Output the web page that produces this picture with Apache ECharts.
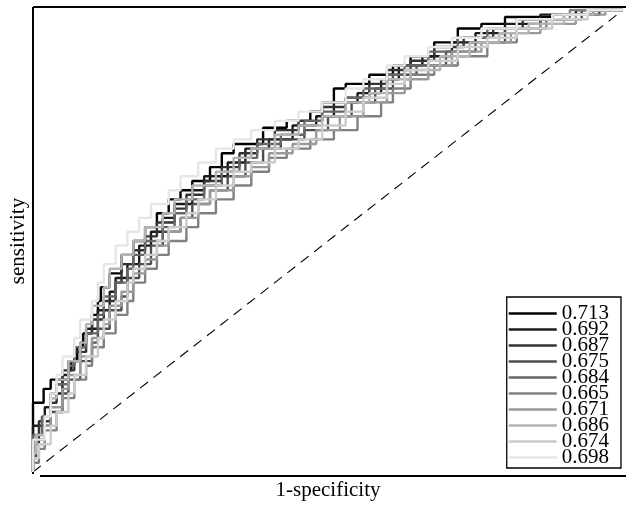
<!DOCTYPE html>
<html>
<head>
<meta charset="utf-8">
<script src="https://cdn.jsdelivr.net/npm/echarts@6/dist/echarts.min.js"></script>
<style>html,body{margin:0;padding:0;background:#fff;}#c{width:626px;height:506px;}</style>
</head>
<body>
<div id="c"></div>
<script>
// AUC labels (legend) and gray levels
const aucLabels = ['0.713','0.692','0.687','0.675','0.684','0.665','0.671','0.686','0.674','0.698'];
const grays = ['#000000','#1a1a1a','#333333','#4d4d4d','#666666','#808080','#999999','#b3b3b3','#cccccc','#e6e6e6'];

// ROC curves: [1-specificity, sensitivity]
const roc713 = [[0,0],[0,0.07],[0.018,0.15],[0.03,0.18],[0.035,0.2],[0.06,0.2],[0.065,0.22],[0.075,0.24],[0.085,0.27],[0.1,0.3],[0.11,0.34],[0.115,0.37],[0.13,0.4],[0.15,0.43],[0.17,0.47],[0.19,0.5],[0.21,0.53],[0.23,0.56],[0.25,0.59],[0.27,0.61],[0.3,0.63],[0.32,0.66],[0.34,0.69],[0.39,0.71],[0.43,0.745],[0.47,0.76],[0.49,0.78],[0.51,0.8],[0.53,0.83],[0.57,0.84],[0.61,0.86],[0.64,0.88],[0.68,0.9],[0.72,0.93],[0.76,0.96],[0.8,0.97],[0.88,0.985],[0.95,0.99],[1,1]];
const roc692 = [[0,0],[0,0.05],[0.02,0.1],[0.03,0.14],[0.05,0.17],[0.06,0.21],[0.08,0.24],[0.09,0.28],[0.11,0.31],[0.13,0.35],[0.14,0.39],[0.16,0.42],[0.18,0.45],[0.2,0.49],[0.22,0.52],[0.24,0.55],[0.27,0.58],[0.29,0.61],[0.33,0.64],[0.36,0.67],[0.4,0.7],[0.44,0.72],[0.48,0.75],[0.51,0.77],[0.55,0.8],[0.59,0.82],[0.62,0.85],[0.66,0.88],[0.71,0.9],[0.75,0.93],[0.8,0.95],[0.86,0.97],[0.92,0.99],[1,1]];
const roc687 = [[0,0],[0,0.03],[0.01,0.06],[0.03,0.11],[0.04,0.15],[0.05,0.19],[0.07,0.22],[0.09,0.26],[0.1,0.3],[0.12,0.33],[0.14,0.37],[0.15,0.41],[0.17,0.45],[0.19,0.48],[0.21,0.51],[0.24,0.54],[0.26,0.57],[0.29,0.6],[0.32,0.63],[0.35,0.66],[0.38,0.69],[0.41,0.72],[0.45,0.74],[0.49,0.76],[0.53,0.79],[0.57,0.81],[0.6,0.84],[0.64,0.87],[0.68,0.89],[0.73,0.92],[0.78,0.94],[0.83,0.96],[0.9,0.98],[0.96,0.99],[1,1]];
const roc675 = [[0,0],[0.005,0.03],[0.02,0.07],[0.03,0.1],[0.05,0.13],[0.06,0.17],[0.08,0.2],[0.1,0.24],[0.11,0.28],[0.13,0.31],[0.15,0.35],[0.16,0.38],[0.18,0.42],[0.2,0.45],[0.22,0.49],[0.25,0.52],[0.27,0.55],[0.3,0.58],[0.33,0.61],[0.36,0.64],[0.39,0.67],[0.42,0.7],[0.46,0.72],[0.5,0.74],[0.54,0.77],[0.58,0.8],[0.61,0.83],[0.65,0.86],[0.7,0.88],[0.75,0.91],[0.8,0.93],[0.86,0.96],[0.93,0.98],[1,1]];
const roc684 = [[0,0],[0,0.04],[0.015,0.08],[0.03,0.12],[0.04,0.16],[0.06,0.19],[0.07,0.23],[0.09,0.27],[0.11,0.3],[0.12,0.34],[0.14,0.38],[0.16,0.41],[0.17,0.44],[0.19,0.47],[0.22,0.5],[0.24,0.53],[0.26,0.56],[0.29,0.59],[0.32,0.62],[0.35,0.65],[0.38,0.68],[0.42,0.71],[0.46,0.73],[0.49,0.76],[0.53,0.78],[0.56,0.81],[0.6,0.83],[0.63,0.86],[0.67,0.88],[0.72,0.91],[0.77,0.94],[0.82,0.96],[0.88,0.98],[0.94,0.99],[1,1]];
const roc665 = [[0,0],[0.01,0.02],[0.02,0.05],[0.04,0.09],[0.05,0.13],[0.07,0.16],[0.09,0.2],[0.1,0.23],[0.12,0.27],[0.14,0.3],[0.16,0.34],[0.17,0.37],[0.19,0.41],[0.21,0.44],[0.23,0.47],[0.26,0.5],[0.28,0.53],[0.31,0.56],[0.34,0.59],[0.37,0.62],[0.4,0.65],[0.43,0.68],[0.47,0.7],[0.51,0.72],[0.55,0.74],[0.59,0.77],[0.61,0.8],[0.64,0.83],[0.68,0.86],[0.72,0.88],[0.77,0.9],[0.82,0.93],[0.87,0.96],[0.91,0.98],[1,1]];
const roc671 = [[0,0],[0,0.02],[0.02,0.06],[0.03,0.1],[0.05,0.14],[0.06,0.18],[0.08,0.21],[0.1,0.25],[0.12,0.29],[0.13,0.32],[0.15,0.36],[0.17,0.39],[0.19,0.43],[0.21,0.46],[0.23,0.49],[0.25,0.52],[0.28,0.55],[0.3,0.58],[0.34,0.61],[0.37,0.64],[0.4,0.66],[0.44,0.69],[0.48,0.71],[0.52,0.74],[0.56,0.77],[0.6,0.8],[0.63,0.82],[0.67,0.85],[0.71,0.88],[0.76,0.91],[0.81,0.93],[0.86,0.95],[0.92,0.97],[0.97,0.99],[1,1]];
const roc686 = [[0,0],[0.005,0.04],[0.02,0.08],[0.03,0.12],[0.04,0.16],[0.06,0.2],[0.08,0.24],[0.09,0.28],[0.1,0.32],[0.12,0.36],[0.13,0.4],[0.15,0.44],[0.17,0.47],[0.19,0.5],[0.22,0.53],[0.24,0.56],[0.27,0.59],[0.31,0.62],[0.34,0.65],[0.37,0.68],[0.41,0.7],[0.45,0.73],[0.49,0.75],[0.53,0.77],[0.57,0.8],[0.6,0.82],[0.64,0.85],[0.69,0.87],[0.74,0.9],[0.79,0.93],[0.84,0.95],[0.9,0.97],[0.95,0.99],[1,1]];
const roc674 = [[0,0],[0.01,0.03],[0.03,0.06],[0.04,0.1],[0.06,0.13],[0.07,0.17],[0.09,0.21],[0.11,0.25],[0.12,0.29],[0.14,0.33],[0.16,0.37],[0.17,0.41],[0.19,0.44],[0.21,0.47],[0.23,0.5],[0.26,0.53],[0.28,0.56],[0.31,0.59],[0.34,0.62],[0.37,0.65],[0.41,0.67],[0.45,0.7],[0.49,0.72],[0.53,0.75],[0.56,0.78],[0.6,0.81],[0.63,0.84],[0.67,0.87],[0.72,0.89],[0.77,0.92],[0.82,0.94],[0.88,0.96],[0.94,0.98],[1,1]];
const roc698 = [[0,0],[0,0.03],[0.02,0.07],[0.03,0.12],[0.04,0.17],[0.05,0.21],[0.07,0.25],[0.08,0.29],[0.1,0.33],[0.11,0.37],[0.12,0.41],[0.14,0.45],[0.16,0.49],[0.18,0.52],[0.2,0.55],[0.23,0.58],[0.25,0.61],[0.28,0.64],[0.31,0.67],[0.34,0.7],[0.37,0.72],[0.41,0.74],[0.45,0.76],[0.49,0.78],[0.53,0.8],[0.56,0.83],[0.6,0.85],[0.63,0.88],[0.67,0.9],[0.71,0.92],[0.76,0.94],[0.82,0.96],[0.88,0.98],[0.94,0.99],[1,1]];
const chanceLine = [[0,0],[1,1]];

const curves = [roc713, roc692, roc687, roc675, roc684, roc665, roc671, roc686, roc674, roc698];

const chart = echarts.init(document.getElementById('c'), null, {renderer: 'canvas'});
const serif = 'Liberation Serif';

const series = [{
  name: 'chance', type: 'line', data: chanceLine, symbol: 'none', silent: true,
  lineStyle: {color: '#000', width: 1.1, type: [10, 7]}, z: 1
}];
curves.forEach((d, i) => {
  series.push({
    name: aucLabels[i], type: 'line', data: d, step: 'start', symbol: 'none',
    color: grays[i], lineStyle: {color: grays[i], width: 2.4}, z: 2 + i
  });
});

chart.setOption({
  animation: false,
  backgroundColor: '#fff',
  grid: {left: 33, right: 3, top: 10, bottom: 32, containLabel: false},
  xAxis: {
    type: 'value', min: 0, max: 1,
    axisLine: {show: false}, axisTick: {show: false}, axisLabel: {show: false}, splitLine: {show: false},
    name: '1-specificity', nameLocation: 'middle', nameGap: 8,
    nameTextStyle: {fontFamily: serif, fontSize: 21, color: '#000'}
  },
  yAxis: {
    type: 'value', min: 0, max: 1,
    axisLine: {show: false}, axisTick: {show: false}, axisLabel: {show: false}, splitLine: {show: false},
    name: 'sensitivity', nameLocation: 'middle', nameGap: 4,
    nameTextStyle: {fontFamily: serif, fontSize: 21, color: '#000'}
  },
  legend: {
    data: aucLabels,
    orient: 'vertical', right: 5, bottom: 38,
    icon: 'rect', itemWidth: 48, itemHeight: 2.5, itemGap: -5,
    padding: [6, 12, 0, 2],
    borderColor: '#000', borderWidth: 1.3, backgroundColor: '#fff',
    textStyle: {fontFamily: serif, fontSize: 21, lineHeight: 16, color: '#000'},
    selectedMode: false
  },
  graphic: [
    {type: 'line', shape: {x1: 33, y1: 7, x2: 626, y2: 7}, style: {stroke: '#000', lineWidth: 2}, silent: true},
    {type: 'line', shape: {x1: 33, y1: 7, x2: 33, y2: 474}, style: {stroke: '#000', lineWidth: 2}, silent: true},
    {type: 'line', shape: {x1: 40, y1: 476, x2: 626, y2: 476}, style: {stroke: '#000', lineWidth: 2}, silent: true}
  ],
  series: series
});
</script>
</body>
</html>
